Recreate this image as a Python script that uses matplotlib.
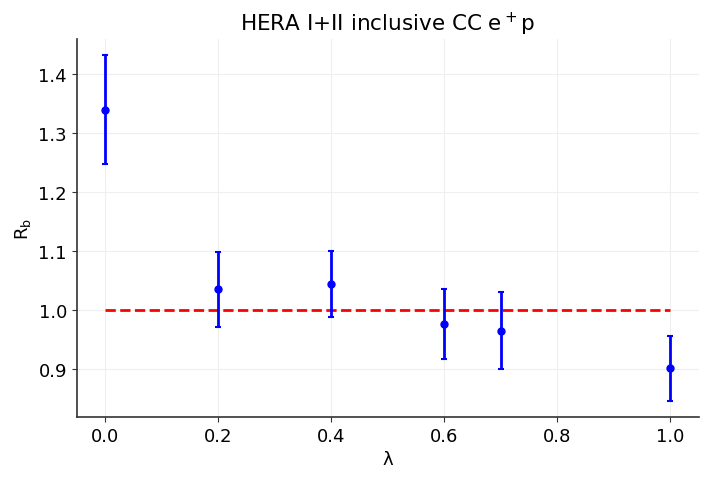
import numpy as np
import matplotlib
matplotlib.use("Agg")
import matplotlib.pyplot as plt

lam = [0.0, 0.2, 0.4, 0.6, 0.7, 1.0]
rb = [1.339, 1.035, 1.044, 0.976, 0.965, 0.902]
rb_hi = [1.431, 1.099, 1.100, 1.035, 1.031, 0.956]
rb_lo = [1.247, 0.971, 0.988, 0.917, 0.900, 0.846]

rb = np.array(rb)
yerr = [rb - np.array(rb_lo), np.array(rb_hi) - rb]

fig, ax = plt.subplots(figsize=(7.1, 4.85), dpi=100)
ax.plot([lam[0], lam[-1]], [1.0, 1.0], "r--", lw=2, zorder=2)
ax.errorbar(lam, rb, yerr=yerr, fmt="o", color="blue", ms=5, lw=2,
            capsize=2.5, capthick=1.5, zorder=3)

ax.set_title("HERA I+II inclusive CC e$^+$p", fontsize=15.5)
ax.set_xlabel("λ", fontsize=13)
ax.set_ylabel("R$_\\mathrm{b}$", fontsize=13)
ax.set_xlim(-0.051, 1.05)
ax.set_ylim(0.819, 1.459)
ax.set_xticks([0.0, 0.2, 0.4, 0.6, 0.8, 1.0])
ax.set_yticks([0.9, 1.0, 1.1, 1.2, 1.3, 1.4])
ax.tick_params(labelsize=13, color="#333333")
ax.grid(True, color="#efefef", lw=0.8)
ax.set_axisbelow(True)
ax.spines["top"].set_visible(False)
ax.spines["right"].set_visible(False)
for s in ["left", "bottom"]:
    ax.spines[s].set_color("#333333")
    ax.spines[s].set_linewidth(1.2)

fig.subplots_adjust(left=0.108, right=0.984, top=0.918, bottom=0.138)
fig.savefig("out.png")
